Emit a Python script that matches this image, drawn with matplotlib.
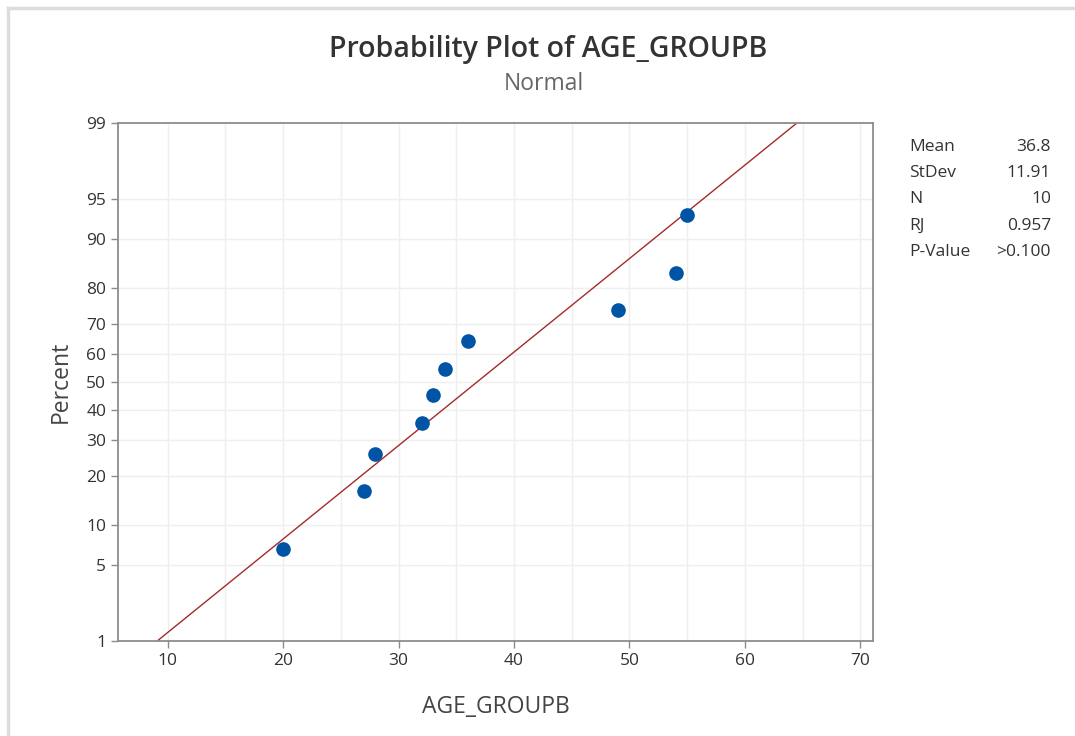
from statistics import NormalDist

import matplotlib
matplotlib.use("Agg")
import matplotlib.pyplot as plt
from matplotlib.lines import Line2D

# data
age_values = [20, 27, 28, 32, 33, 34, 36, 49, 54, 55]
percents = [6.7, 16.3, 26.0, 35.6, 45.2, 54.8, 64.4, 74.0, 83.7, 93.3]
fit_mean = 36.8
fit_stdev = 11.91
y_ticks = [1, 5, 10, 20, 30, 40, 50, 60, 70, 80, 90, 95, 99]
x_ticks = [10, 20, 30, 40, 50, 60, 70]
x_minor = [15, 25, 35, 45, 55, 65]
stat_labels = ["Mean", "StDev", "N", "RJ", "P-Value"]
stat_values = ["36.8", "11.91", "10", "0.957", ">0.100"]

plt.rcParams["font.family"] = ["Open Sans", "DejaVu Sans"]

nd = NormalDist()


def z(p):
    return nd.inv_cdf(p / 100.0)


fig = plt.figure(figsize=(10.75, 7.36), dpi=100)
ax = fig.add_axes([0.1098, 0.1291, 0.7023, 0.7038])

# grid
for t in x_ticks + x_minor:
    ax.axvline(t, color="#efefef", lw=1.0, zorder=0)
for p in y_ticks[1:-1]:
    ax.axhline(z(p), color="#efefef", lw=1.0, zorder=0)

# fitted line from the mean / stdev
zl = [z(1), z(99)]
xl = [fit_mean + fit_stdev * v for v in zl]
ax.plot(xl, zl, color="#a52a2a", lw=1.0, zorder=2)

ax.plot(age_values, [z(p) for p in percents], "o", color="#0054a6",
        ms=9.5, mec="#0054a6", zorder=3)

ax.set_xlim(5.7, 71.1)
ax.set_ylim(z(1), z(99))
ax.set_xticks(x_ticks)
ax.set_yticks([z(p) for p in y_ticks])
ax.set_yticklabels([str(p) for p in y_ticks])

for s in ax.spines.values():
    s.set_color("#8c8c8c")
    s.set_linewidth(1.3)
ax.tick_params(colors="#8c8c8c", labelcolor="#333333", labelsize=12.5, length=5, width=1.0)

fig.text(0.1098 - 0.053, 0.481, "Percent", rotation=90, ha="center", va="center",
         fontsize=16.5, color="#444444")
fig.text(0.461, 0.039, "AGE_GROUPB", ha="center", va="center", fontsize=16.5, color="#444444")

fig.text(0.510, 0.933, "Probability Plot of AGE_GROUPB", ha="center", va="center",
         fontsize=20.5, weight="semibold", color="#333333")
fig.text(0.506, 0.886, "Normal", ha="center", va="center", fontsize=16.5, color="#666666")

# stats box
y0 = 147
for i, (lab, val) in enumerate(zip(stat_labels, stat_values)):
    yy = 1 - (y0 + i * 26.2) / 736
    fig.text(909 / 1075, yy, lab, ha="left", va="center", fontsize=12.5, color="#333333")
    fig.text(1051 / 1075, yy, val, ha="right", va="center", fontsize=12.5, color="#333333")

# light screenshot frame on left and top
fig.add_artist(Line2D([8 / 1075, 8 / 1075], [0, 1 - 8 / 736], color="#dddddd", lw=2.5,
                      transform=fig.transFigure))
fig.add_artist(Line2D([8 / 1075, 1], [1 - 8 / 736, 1 - 8 / 736], color="#dddddd", lw=2.5,
                      transform=fig.transFigure))

fig.savefig("out.png", dpi=100)
